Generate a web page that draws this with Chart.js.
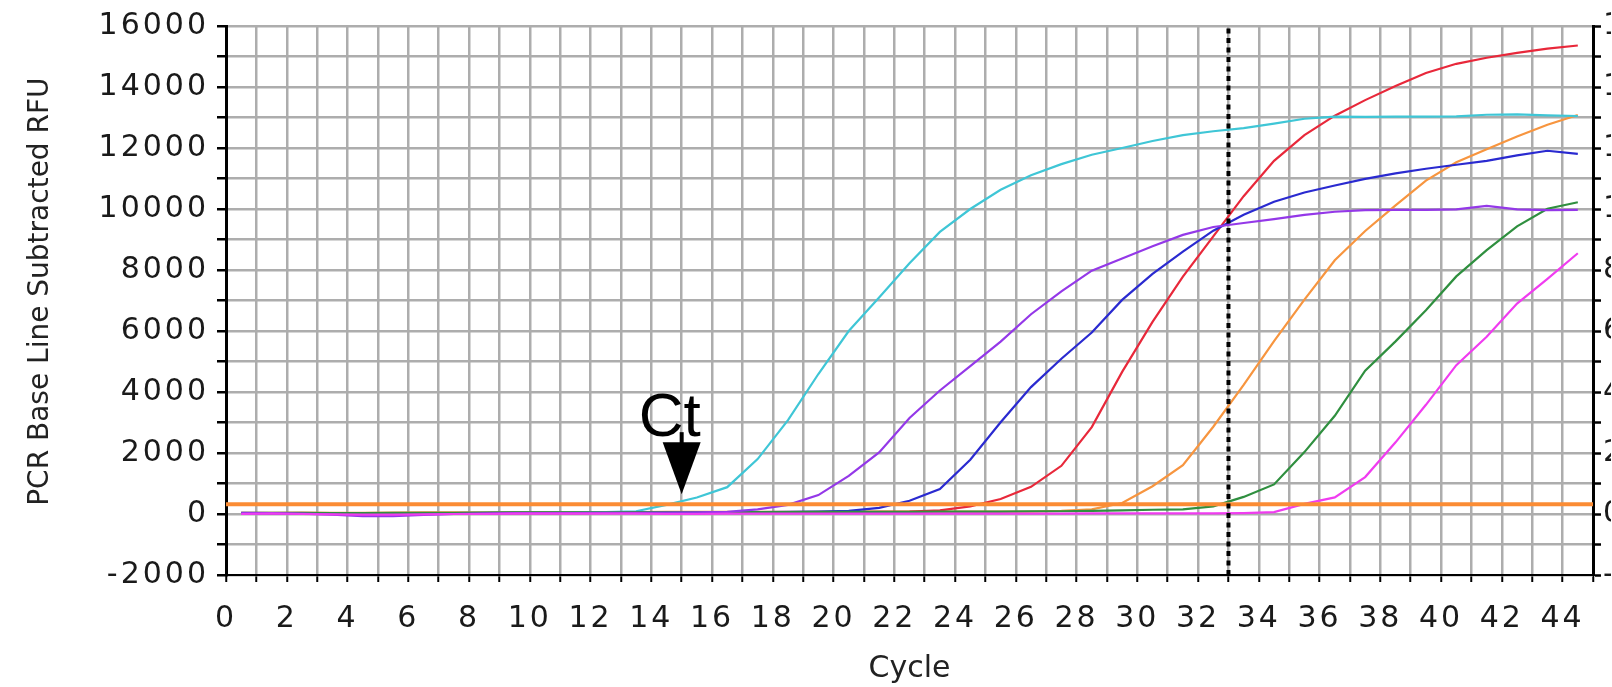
<!DOCTYPE html>
<html>
<head>
<meta charset="utf-8">
<title>PCR amplification</title>
<script src="https://cdn.jsdelivr.net/npm/chart.js@4.4.1/dist/chart.umd.min.js"></script>
<style>
  html, body { margin: 0; padding: 0; background: #fff; }
</style>
</head>
<body>
<canvas id="pcr" width="1612" height="687"></canvas>
<script>
// Cycle positions (each reading is plotted half a cycle to the left)
const cycles = [0.5, 1.5, 2.5, 3.5, 4.5, 5.5, 6.5, 7.5, 8.5, 9.5,
  10.5, 11.5, 12.5, 13.5, 14.5, 15.5, 16.5, 17.5, 18.5, 19.5,
  20.5, 21.5, 22.5, 23.5, 24.5, 25.5, 26.5, 27.5, 28.5, 29.5,
  30.5, 31.5, 32.5, 33.5, 34.5, 35.5, 36.5, 37.5, 38.5, 39.5,
  40.5, 41.5, 42.5, 43.5, 44.5];

// RFU values
const cyanRfu = [20, 30, 30, 20, 20, 30, 30, 30, 40, 40,
  40, 50, 60, 90, 300, 540, 880, 1800, 3080, 4590,
  6000, 7100, 8220, 9250, 10000, 10630, 11110, 11470, 11780, 12000,
  12230, 12420, 12550, 12650, 12800, 12960, 13030, 13020, 13030, 13030,
  13040, 13090, 13100, 13070, 13050];
const violetRfu = [40, 30, 10, -20, -70, -70, -30, 0, 20, 30,
  30, 30, 40, 40, 50, 50, 70, 150, 300, 620,
  1250, 2020, 3150, 4050, 4850, 5650, 6550, 7300, 7980, 8380,
  8780, 9150, 9410, 9540, 9670, 9810, 9910, 9960, 9970, 9970,
  9990, 10100, 9990, 9960, 9970];
const blueRfu = [20, 30, 20, 20, 10, 20, 20, 30, 30, 40,
  40, 40, 50, 50, 50, 50, 60, 60, 70, 80,
  100, 200, 435, 815, 1780, 3010, 4160, 5090, 5950, 7020,
  7870, 8600, 9290, 9810, 10240, 10540, 10770, 10990, 11170, 11320,
  11450, 11580, 11760, 11910, 11810];
const redRfu = [30, 20, 20, 10, 20, 20, 20, 20, 30, 30,
  30, 30, 40, 40, 40, 40, 50, 40, 40, 50,
  60, 70, 80, 120, 250, 490, 890, 1580, 2850, 4660,
  6300, 7780, 9100, 10420, 11580, 12420, 13060, 13570, 14030, 14460,
  14760, 14960, 15120, 15260, 15360];
const orangeRfu = [40, 40, 50, 40, 40, 50, 50, 50, 50, 60,
  60, 60, 60, 60, 70, 70, 70, 70, 70, 70,
  80, 80, 80, 80, 80, 80, 80, 100, 150, 360,
  910, 1600, 2860, 4230, 5670, 7030, 8320, 9280, 10120, 10930,
  11530, 11960, 12380, 12760, 13080];
const greenRfu = [40, 40, 40, 30, 30, 40, 40, 40, 50, 50,
  50, 50, 50, 60, 60, 60, 60, 60, 60, 70,
  70, 70, 70, 80, 80, 80, 90, 90, 100, 120,
  140, 150, 250, 560, 970, 2030, 3220, 4700, 5660, 6680,
  7790, 8650, 9430, 10010, 10220];
const magentaRfu = [0, 10, 0, -10, -20, -20, -10, 0, 0, 10,
  10, 10, 10, 10, 0, 0, 10, 10, 10, 10,
  10, 10, 10, 10, 10, 10, 10, 10, 20, 20,
  20, 20, 20, 30, 60, 330, 545, 1210, 2350, 3580,
  4880, 5810, 6900, 7710, 8550];

const thresholdRfu = 320;
const markerCycle = 33;
const ctCycle = 15;
const ctRfu = 650;

const xMin = 0, xMax = 45;
const yMin = -2000, yMax = 16000;
const xTickLabels = [0, 2, 4, 6, 8, 10, 12, 14, 16, 18, 20, 22, 24, 26, 28, 30, 32, 34, 36, 38, 40, 42, 44];
const yTickLabels = [-2000, 0, 2000, 4000, 6000, 8000, 10000, 12000, 14000, 16000];

const tickFont = { family: '"DejaVu Sans", Verdana, sans-serif', size: 30 };
const gridGray = '#adadad';

function curve(values, color, order) {
  return {
    data: values,
    borderColor: color,
    borderWidth: 2.2,
    pointRadius: 0,
    tension: 0,
    fill: false,
    order: order
  };
}

// wide tick labels: letter spacing only while the tick label layer is drawn
const tickSpacing = {
  id: 'tickSpacing',
  afterDatasetsDraw(chart) { chart.ctx.letterSpacing = '3px'; },
  afterDraw(chart) { chart.ctx.letterSpacing = '0px'; }
};

// "Ct" arrow pointing at the threshold crossing
const ctArrow = {
  id: 'ctArrow',
  afterDraw(chart) {
    const { ctx, scales } = chart;
    const tipX = scales.x.getPixelForValue(ctCycle);
    const tipY = scales.y.getPixelForValue(ctRfu);
    ctx.save();
    ctx.letterSpacing = '0px';
    ctx.fillStyle = '#000';
    ctx.fillRect(tipX - 2, tipY - 62, 4, 12);
    ctx.beginPath();
    ctx.moveTo(tipX - 19, tipY - 52);
    ctx.lineTo(tipX + 19, tipY - 52);
    ctx.lineTo(tipX, tipY);
    ctx.closePath();
    ctx.fill();
    ctx.font = '62px "Liberation Sans", Arial, sans-serif';
    ctx.textBaseline = 'alphabetic';
    ctx.textAlign = 'left';
    ctx.fillText('Ct', tipX - 43, tipY - 58);
    ctx.restore();
  }
};

new Chart(document.getElementById('pcr'), {
  type: 'line',
  data: {
    labels: cycles,
    datasets: [
      {
        data: [{ x: markerCycle, y: yMin }, { x: markerCycle, y: yMax }],
        borderColor: '#000',
        borderWidth: 4,
        borderDash: [5, 4.5],
        pointRadius: 0,
        order: 0
      },
      {
        data: [{ x: xMin, y: thresholdRfu }, { x: xMax, y: thresholdRfu }],
        borderColor: '#fb8c34',
        borderWidth: 4,
        pointRadius: 0,
        order: 1
      },
      curve(magentaRfu, '#f03cf0', 2),
      curve(violetRfu, '#9438e8', 3),
      curve(greenRfu, '#2f8f3f', 4),
      curve(cyanRfu, '#3fc6d6', 5),
      curve(blueRfu, '#2a2ad0', 6),
      curve(redRfu, '#e8283a', 7),
      curve(orangeRfu, '#f7953f', 8)
    ]
  },
  options: {
    responsive: false,
    animation: false,
    devicePixelRatio: 1,
    layout: { padding: { top: 20, left: 0, right: 0, bottom: 0 } },
    plugins: { legend: { display: false }, tooltip: { enabled: false } },
    scales: {
      x: {
        type: 'linear',
        min: xMin,
        max: xMax,
        afterFit(s) { s.height = 112; },
        ticks: {
          stepSize: 1,
          autoSkip: false,
          maxRotation: 0,
          z: 1,
          padding: 19,
          color: '#1a1a1a',
          font: tickFont,
          callback: v => xTickLabels.includes(v) ? String(v) : ''
        },
        grid: { color: gridGray, lineWidth: 2.5, tickLength: 7, tickColor: '#000', tickWidth: 2 },
        border: { color: '#000', width: 2 },
        title: {
          display: true,
          text: 'Cycle',
          color: '#222',
          font: { family: '"DejaVu Sans", Verdana, sans-serif', size: 30 },
          padding: { top: 0, bottom: 0 }
        }
      },
      y: {
        type: 'linear',
        min: yMin,
        max: yMax,
        afterFit(s) { s.width = 226; },
        ticks: {
          stepSize: 1000,
          autoSkip: false,
          z: 1,
          padding: 8,
          color: '#1a1a1a',
          font: tickFont,
          callback: v => yTickLabels.includes(v) ? String(v) : ''
        },
        grid: { color: gridGray, lineWidth: 2.5, tickLength: 9, tickColor: '#000', tickWidth: 2.5 },
        border: { color: '#000', width: 3 },
        title: {
          display: true,
          text: '  PCR Base Line Subtracted RFU',
          color: '#222',
          font: { family: '"DejaVu Sans", Verdana, sans-serif', size: 28 },
          padding: { top: 24, bottom: 0 }
        }
      },
      y2: {
        type: 'linear',
        position: 'right',
        min: yMin,
        max: yMax,
        afterFit(s) { s.width = 18; },
        ticks: {
          stepSize: 1000,
          autoSkip: false,
          z: 1,
          padding: 2,
          color: '#1a1a1a',
          font: tickFont,
          callback: v => yTickLabels.includes(v) ? String(v) : ''
        },
        grid: { drawOnChartArea: false, tickLength: 8, tickColor: '#000', tickWidth: 2.5 },
        border: { color: '#000', width: 3 }
      }
    }
  },
  plugins: [tickSpacing, ctArrow]
});
</script>
</body>
</html>
